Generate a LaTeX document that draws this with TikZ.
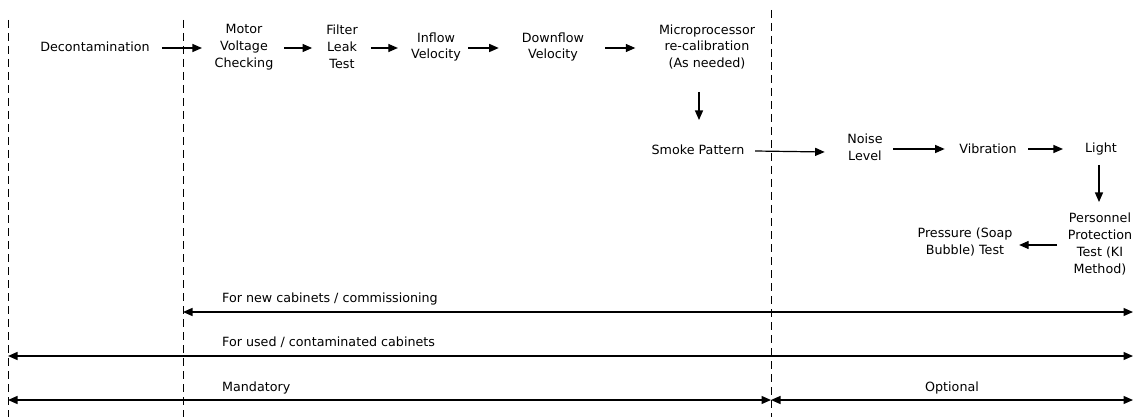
\documentclass[tikz,border=0pt]{standalone}
\usepackage{fontspec}
\setmainfont{DejaVu Sans}
\usetikzlibrary{arrows.meta}
\tikzset{
  lbl/.style={font=\fontsize{12.7pt}{16.8pt}\selectfont, align=center, inner sep=0pt},
  lbll/.style={font=\fontsize{12.7pt}{16.8pt}\selectfont, inner sep=0pt, anchor=west},
  arr/.style={line width=1.2pt, -{Triangle[length=9.5pt,width=8pt]}},
  darr/.style={line width=1.2pt, {Triangle[length=9.5pt,width=8pt]}-{Triangle[length=9.5pt,width=8pt]}},
  divider/.style={line width=0.8pt, dash pattern=on 8pt off 5pt}
}
\begin{document}
\begin{tikzpicture}[x=1pt,y=-1pt]
\useasboundingbox (0,0) rectangle (1133,417);
% dividers
\coordinate (d1t) at (8,20);   \coordinate (d1b) at (8,417);
\coordinate (d2t) at (183,20); \coordinate (d2b) at (183,417);
\coordinate (d3t) at (771,10); \coordinate (d3b) at (771,417);
\draw[divider] (d1t) -- (d1b);
\draw[divider] (d2t) -- (d2b);
\draw[divider] (d3t) -- (d3b);
% top row
\node[lbl] (deco) at (95,47) {Decontamination};
\node[lbl] (motor) at (244,47) {Motor\\Voltage\\Checking};
\node[lbl] (filter) at (342,47) {Filter\\Leak\\Test};
\node[lbl] (inflow) at (436,47) {Inflow\\Velocity};
\node[lbl] (down) at (553,47) {Downflow\\Velocity};
\node[lbl] (micro) at (707,47) {Microprocessor\\re-calibration\\(As needed)};
\node[lbl] (smoke) at (698,150) {Smoke Pattern};
\node[lbl] (noise) at (865,147) {Noise\\Level};
\node[lbl] (vib) at (988,149) {Vibration};
\node[lbl] (light) at (1101,149) {Light};
\node[lbl] (pers) at (1100,244) {Personnel\\Protection\\Test (KI\\Method)};
\node[lbl] (press) at (965,242) {Pressure (Soap\\Bubble) Test};
% flow arrows
\draw[arr] ([xshift=12pt]deco.east |- 0,48) -- ([xshift=-12.5pt]motor.west |- 0,48);
\draw[arr] ([xshift=10.5pt]motor.east |- 0,48) -- ([xshift=-14pt]filter.west |- 0,48);
\draw[arr] ([xshift=13pt]filter.east |- 0,48) -- ([xshift=-13pt]inflow.west |- 0,48);
\draw[arr] ([xshift=7pt]inflow.east |- 0,48) -- ([xshift=-23pt]down.west |- 0,48);
\draw[arr] ([xshift=21pt]down.east |- 0,48) -- ([xshift=-23.5pt]micro.west |- 0,48);
\draw[arr] ([xshift=-8pt]micro.south |- 0,92) -- ([xshift=-8pt]micro.south |- 0,120);
\draw[arr] ([xshift=10.5pt]smoke.east |- 0,151) -- ([xshift=-22.5pt]noise.west |- 0,152);
\draw[arr] ([xshift=10.5pt]noise.east |- 0,149) -- ([xshift=-14.5pt]vib.west |- 0,149);
\draw[arr] ([xshift=11.5pt]vib.east |- 0,149) -- ([xshift=-22pt]light.west |- 0,149);
\draw[arr] ([xshift=-2pt]light.south |- 0,165) -- ([xshift=-2pt]light.south |- 0,202);
\draw[arr] ([xshift=-10.5pt]pers.west |- 0,245) -- ([xshift=6.5pt]press.east |- 0,245);
% bottom ranges
\coordinate (n1) at (183,312); \coordinate (n2) at (1133,312);
\coordinate (u1) at (8,356);   \coordinate (u2) at (1133,356);
\coordinate (m1) at (8,400);   \coordinate (m2) at (771,400);
\coordinate (o1) at (771,400); \coordinate (o2) at (1133,400);
\draw[darr] (n1) -- (n2);
\draw[darr] (u1) -- (u2);
\draw[darr] (m1) -- (m2);
\draw[darr] (o1) -- (o2);
\node[lbll] (tnew) at (222,299) {For new cabinets / commissioning};
\node[lbll] (tused) at (222,342) {For used / contaminated cabinets};
\node[lbll] (tman) at (222,388) {Mandatory};
\node[lbl] (topt) at (952,388) {Optional};
\end{tikzpicture}
\end{document}
